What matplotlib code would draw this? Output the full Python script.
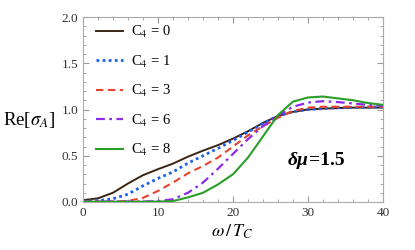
import matplotlib
matplotlib.use("Agg")
import matplotlib.pyplot as plt
from matplotlib.ticker import MultipleLocator

omega = [0, 2, 4, 6, 8, 10, 12, 14, 16, 18, 20, 22, 24, 26, 28, 30, 32, 34, 36, 38, 40]
c4_0 = [0.02, 0.04, 0.10, 0.20, 0.29, 0.355, 0.415, 0.49, 0.555, 0.615, 0.685, 0.765, 0.855, 0.93, 0.975, 1.0, 1.01, 1.015, 1.02, 1.02, 1.02]
c4_1 = [0.01, 0.015, 0.035, 0.085, 0.175, 0.255, 0.325, 0.42, 0.50, 0.58, 0.665, 0.755, 0.85, 0.93, 0.975, 1.0, 1.01, 1.02, 1.02, 1.025, 1.03]
c4_3 = [0.01, 0.005, 0.005, 0.012, 0.045, 0.12, 0.21, 0.31, 0.39, 0.48, 0.60, 0.72, 0.82, 0.91, 0.985, 1.02, 1.03, 1.03, 1.03, 1.03, 1.03]
c4_6 = [0.005, 0.005, 0.005, 0.005, 0.005, 0.01, 0.03, 0.10, 0.21, 0.36, 0.52, 0.68, 0.82, 0.935, 1.03, 1.075, 1.09, 1.08, 1.065, 1.05, 1.04]
c4_8 = [0.005, 0.003, 0.003, 0.003, 0.003, 0.005, 0.01, 0.05, 0.10, 0.19, 0.30, 0.48, 0.71, 0.94, 1.085, 1.13, 1.14, 1.12, 1.10, 1.07, 1.05]
labels = ["C$_4$ = 0", "C$_4$ = 1", "C$_4$ = 3", "C$_4$ = 6", "C$_4$ = 8"]

plt.rcParams['font.family'] = ['Liberation Serif', 'DejaVu Serif']
plt.rcParams['mathtext.fontset'] = 'stix'

fig = plt.figure(figsize=(4.15, 2.5), dpi=100)
ax = fig.add_axes([83/415, 1-202/250, 300/415, 185/250])

styles = [
    dict(color='#3a2412', ls='-', lw=1.4),
    dict(color='#1f5ff0', ls=(0, (1.0, 1.2)), lw=2.0),
    dict(color='#e8432e', ls=(0, (3.5, 2.2)), lw=1.5),
    dict(color='#8a2be6', ls=(0, (4, 2, 1.2, 2)), lw=1.6),
    dict(color='#2a9e2a', ls='-', lw=1.5),
]
for ys, lab, st in zip([c4_0, c4_1, c4_3, c4_6, c4_8], labels, styles):
    ax.plot(omega, ys, label=lab, **st)

ax.set_xlim(0, 40)
ax.set_ylim(0, 2.0)
ax.xaxis.set_major_locator(MultipleLocator(10))
ax.xaxis.set_minor_locator(MultipleLocator(2))
ax.yaxis.set_major_locator(MultipleLocator(0.5))
ax.yaxis.set_minor_locator(MultipleLocator(0.1))
ax.yaxis.set_major_formatter(matplotlib.ticker.FormatStrFormatter('%.1f'))
ax.tick_params(which='both', direction='in', top=True, right=True, colors='#999999',
               labelcolor='#333333', labelsize=9.5)
ax.tick_params(which='major', length=4)
ax.tick_params(which='minor', length=2)
ax.tick_params(labelright=False, labeltop=False)
for s in ax.spines.values():
    s.set_color('#aaaaaa')
    s.set_linewidth(0.8)

leg = ax.legend(loc='upper left', bbox_to_anchor=(0.043, 0.962), frameon=False,
                borderpad=0, borderaxespad=0,
                fontsize=10.5, handlelength=1.85, handletextpad=0.55, labelspacing=0.92)

fig.text(3/415, 1-120/250, r"Re[$\sigma_A$]", fontsize=13.5, ha='left', va='center')
fig.text(232/415, 1-232/250, r"$\omega\,/\,T_C$", fontsize=13, ha='center', va='center')

t1 = ax.text(27.3, 0.40, "δμ", fontsize=14, fontweight='bold', fontstyle='italic', va='baseline')
ax.annotate("=1.5", xy=(1, 0), xycoords=t1, va='bottom', fontsize=14, fontweight='bold')

fig.savefig("out.png", dpi=100)
